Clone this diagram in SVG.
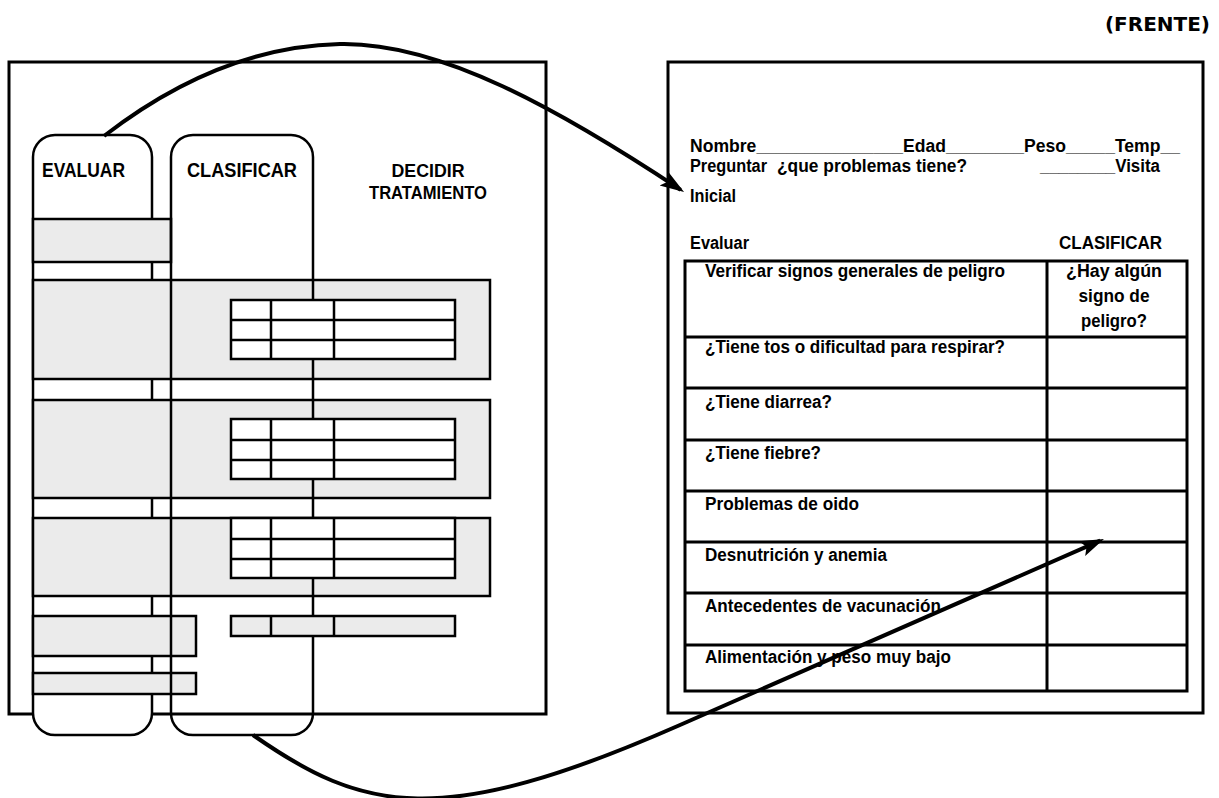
<svg xmlns="http://www.w3.org/2000/svg" width="1219" height="798" viewBox="0 0 1219 798">
  <style>
    .frame { fill: none; stroke: #000; stroke-width: 3; }
    .col { fill: #fff; stroke: #000; stroke-width: 2.5; }
    .col-line { fill: none; stroke: #000; stroke-width: 2.5; }
    .shade { fill: #ebebeb; stroke: #000; stroke-width: 2.5; }
    .cell { fill: #fff; stroke: #000; stroke-width: 2.5; }
    .cell-shade { fill: #ebebeb; stroke: #000; stroke-width: 2.5; }
    .rule { fill: none; stroke: #000; stroke-width: 2.5; }
    .form { fill: #fff; stroke: #000; stroke-width: 3; }
    .form-rule { fill: none; stroke: #000; stroke-width: 3; }
    .flow { fill: none; stroke: #000; stroke-width: 4; marker-end: url(#arrow); }
    .head { font-family: "Liberation Sans", Arial, sans-serif; font-weight: bold; font-size: 21px; fill: #000; }
    .head-sm { font-family: "Liberation Sans", Arial, sans-serif; font-weight: bold; font-size: 19px; fill: #000; }
    .txt { font-family: "Liberation Sans", Arial, sans-serif; font-weight: bold; font-size: 18px; fill: #000; }
    .tag { font-family: "DejaVu Sans", Verdana, sans-serif; font-weight: bold; font-size: 20px; fill: #000; }
  </style>
  <defs>
    <marker id="arrow" markerUnits="userSpaceOnUse" markerWidth="30" markerHeight="20" viewBox="0 0 30 20" refX="20" refY="10" orient="auto">
      <path d="M0,2 L24,10 L0,18 L5,10 Z" fill="#000"/>
    </marker>
  </defs>

  <rect width="1219" height="798" fill="#fff"/>

  <text class="tag" x="1210" y="31" text-anchor="end">(FRENTE)</text>

  <!-- Chart overview: three columns over stacked bands -->
  <g id="chart-overview">
    <rect class="frame" x="9" y="62" width="537" height="652"/>

    <g id="col-evaluar">
      <rect class="col" x="33" y="135" width="119" height="600" rx="22" ry="22"/>
      <text class="head" x="42" y="177" textLength="83" lengthAdjust="spacingAndGlyphs">EVALUAR</text>
    </g>

    <g id="bands">
      <rect class="shade" x="33" y="219" width="138" height="43"/>
      <rect class="shade" x="33" y="280" width="457" height="99"/>
      <rect class="shade" x="33" y="400" width="457" height="98"/>
      <rect class="shade" x="33" y="518" width="457" height="78"/>
      <rect class="shade" x="33" y="616" width="163" height="40"/>
      <rect class="shade" x="33" y="673" width="163" height="21"/>
    </g>

    <g id="col-clasificar">
      <rect class="col-line" x="171" y="135" width="142" height="600" rx="22" ry="22"/>
      <text class="head" x="187" y="177" textLength="110" lengthAdjust="spacingAndGlyphs">CLASIFICAR</text>
    </g>

    <g id="col-decidir">
      <text class="head-sm" x="428" y="177" text-anchor="middle" textLength="73" lengthAdjust="spacingAndGlyphs">DECIDIR</text>
      <text class="head-sm" x="428" y="199" text-anchor="middle" textLength="118" lengthAdjust="spacingAndGlyphs">TRATAMIENTO</text>
    </g>

    <g id="grid-1">
      <rect class="cell" x="231" y="300" width="224" height="59"/>
      <path class="rule" d="M231,320 H455 M231,340 H455 M271,300 V359 M334,300 V359"/>
    </g>
    <g id="grid-2">
      <rect class="cell" x="231" y="419" width="224" height="60"/>
      <path class="rule" d="M231,440 H455 M231,460 H455 M271,419 V479 M334,419 V479"/>
    </g>
    <g id="grid-3">
      <rect class="cell" x="231" y="518" width="224" height="60"/>
      <path class="rule" d="M231,539 H455 M231,559 H455 M271,518 V578 M334,518 V578"/>
    </g>
    <g id="grid-4">
      <rect class="cell-shade" x="231" y="616" width="224" height="20"/>
      <path class="rule" d="M271,616 V636 M334,616 V636"/>
    </g>
  </g>

  <!-- Recording form -->
  <g id="form">
    <rect class="frame" x="668" y="62" width="535" height="651"/>

    <g id="form-header">
      <text class="txt" x="690" y="152" textLength="490" lengthAdjust="spacingAndGlyphs">Nombre_______________Edad________Peso_____Temp__</text>
      <text class="txt" y="172"><tspan x="690" textLength="77" lengthAdjust="spacingAndGlyphs">Preguntar</tspan><tspan x="777" textLength="190" lengthAdjust="spacingAndGlyphs">¿que problemas tiene?</tspan></text>
      <text class="txt" x="1040" y="172" textLength="120" lengthAdjust="spacingAndGlyphs">________Visita</text>
      <text class="txt" x="690" y="202" textLength="46" lengthAdjust="spacingAndGlyphs">Inicial</text>
      <text class="txt" x="690" y="249" textLength="59" lengthAdjust="spacingAndGlyphs">Evaluar</text>
      <text class="txt" x="1059" y="249" textLength="103" lengthAdjust="spacingAndGlyphs">CLASIFICAR</text>
    </g>

    <g id="form-table">
      <rect class="form" x="685" y="261" width="502" height="430"/>
      <path class="form-rule" d="M1047,261 V691 M685,337 H1187 M685,388 H1187 M685,440 H1187 M685,491 H1187 M685,542 H1187 M685,593 H1187 M685,645 H1187"/>
    </g>

    <g id="row-peligro">
      <text class="txt" x="705" y="277" textLength="300" lengthAdjust="spacingAndGlyphs">Verificar signos generales de peligro</text>
      <text class="txt" x="1114" y="277" text-anchor="middle" textLength="96" lengthAdjust="spacingAndGlyphs">¿Hay algún</text>
      <text class="txt" x="1114" y="302" text-anchor="middle" textLength="71" lengthAdjust="spacingAndGlyphs">signo de</text>
      <text class="txt" x="1114" y="327" text-anchor="middle" textLength="66" lengthAdjust="spacingAndGlyphs">peligro?</text>
    </g>
    <g id="row-tos"><text class="txt" x="705" y="353" textLength="300" lengthAdjust="spacingAndGlyphs">¿Tiene tos o dificultad para respirar?</text></g>
    <g id="row-diarrea"><text class="txt" x="705" y="408" textLength="127" lengthAdjust="spacingAndGlyphs">¿Tiene diarrea?</text></g>
    <g id="row-fiebre"><text class="txt" x="705" y="459" textLength="116" lengthAdjust="spacingAndGlyphs">¿Tiene fiebre?</text></g>
    <g id="row-oido"><text class="txt" x="705" y="510" textLength="154" lengthAdjust="spacingAndGlyphs">Problemas de oido</text></g>
    <g id="row-desnutricion"><text class="txt" x="705" y="561" textLength="182" lengthAdjust="spacingAndGlyphs">Desnutrición y anemia</text></g>
    <g id="row-vacunacion"><text class="txt" x="705" y="612" textLength="236" lengthAdjust="spacingAndGlyphs">Antecedentes de vacunación</text></g>
    <g id="row-alimentacion"><text class="txt" x="705" y="663" textLength="246" lengthAdjust="spacingAndGlyphs">Alimentación y peso muy bajo</text></g>
  </g>

  <!-- Connectors -->
  <g id="connectors">
    <path class="flow" d="M104,136 C170,85 250,46 340,44 C440,42 560,110 680.7,189.8"/>
    <path class="flow" d="M253,735 C363,812 440,830.6 680,725 L1100.3,540.6"/>
  </g>
</svg>
